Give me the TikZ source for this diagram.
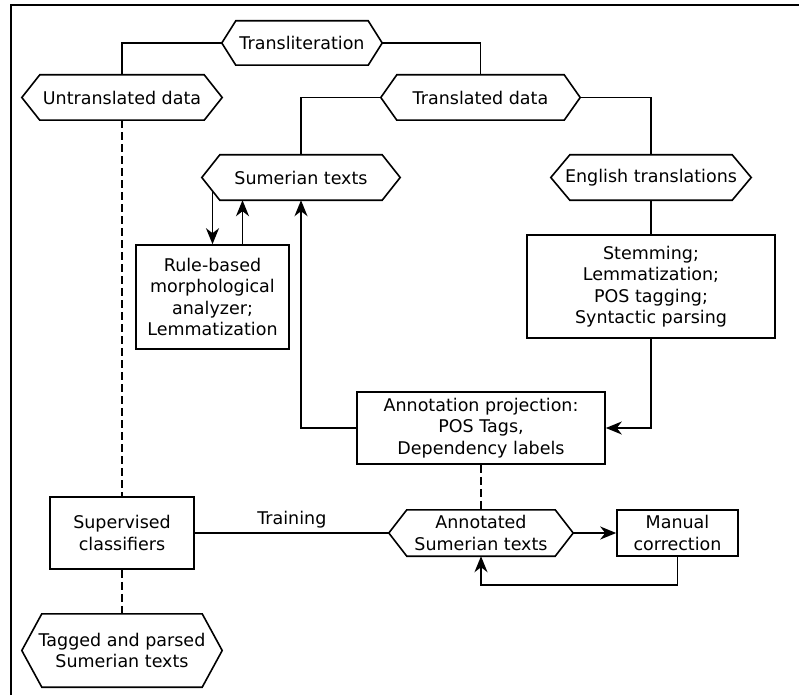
\documentclass[tikz,border=0pt]{standalone}
\usepackage{fontspec}
\setmainfont{DejaVu Sans}
\usetikzlibrary{arrows.meta}
\pgfdeclarelayer{background}
\pgfdeclarelayer{hexl}
\pgfsetlayers{background,hexl,main}
\tikzset{
  base/.style={inner sep=0pt, align=center, font=\fontsize{17.5}{21.5}\selectfont},
  box/.style={base, rectangle, draw, fill=white, line width=1.6pt},
  hexn/.style={base, rectangle},
  hexline/.style={draw, fill=white, line width=1.6pt},
  conn/.style={line width=1.7pt},
  arr/.style={conn, -{Stealth[length=16pt,width=13pt,inset=5pt]}},
  dashln/.style={conn, dash pattern=on 8pt off 4pt}
}
\newcommand\hexdraw[2]{%
  \begin{pgfonlayer}{hexl}
  \draw[hexline] (#1.west) -- ([xshift=#2pt]#1.north west) -- ([xshift=-#2pt]#1.north east) -- (#1.east) -- ([xshift=-#2pt]#1.south east) -- ([xshift=#2pt]#1.south west) -- cycle;
  \end{pgfonlayer}}
\begin{document}
\begin{tikzpicture}[x=1pt,y=-1pt]
\useasboundingbox (0,0) rectangle (799,695);
\draw[line width=2.4pt] (11,695) -- (11,5) -- (799,5);

% hexagon nodes
\node[hexn, minimum width=160pt, minimum height=44pt] (translit) at (302,43) {Transliteration};
\node[hexn, minimum width=200pt, minimum height=45pt] (untrans) at (122,97.5) {Untranslated data};
\node[hexn, minimum width=199pt, minimum height=45pt] (transl) at (480.5,97.5) {Translated data};
\node[hexn, minimum width=198pt, minimum height=45pt] (sumer) at (301,177.5) {Sumerian texts};
\node[hexn, minimum width=200pt, minimum height=45pt] (english) at (651,177.5) {English translations};
\node[hexn, minimum width=184pt, minimum height=46pt] (annotated) at (481,533) {Annotated\\Sumerian texts};
\node[hexn, minimum width=200pt, minimum height=73pt] (tagged) at (122,650.5) {Tagged and parsed\\Sumerian texts};
\hexdraw{translit}{14}
\hexdraw{untrans}{18}
\hexdraw{transl}{16}
\hexdraw{sumer}{18}
\hexdraw{english}{19}
\hexdraw{annotated}{18}
\hexdraw{tagged}{20}

% rectangular nodes
\node[box, minimum width=248pt, minimum height=103pt] (stem) at (651,286.5) {Stemming;\\Lemmatization;\\POS tagging;\\Syntactic parsing};
\node[box, minimum width=153pt, minimum height=104pt] (rule) at (212.5,297) {Rule-based\\morphological\\analyzer;\\Lemmatization};
\node[box, minimum width=248pt, minimum height=72pt] (annot) at (481,428) {Annotation projection:\\POS Tags,\\Dependency labels};
\node[box, minimum width=144pt, minimum height=72pt] (superv) at (122,533) {Supervised\\classifiers};
\node[box, minimum width=121pt, minimum height=46pt] (manual) at (677.5,533) {Manual\\correction};

\begin{pgfonlayer}{background}
\draw[conn] (translit.west) -| (untrans.north);
\draw[conn] (translit.east) -| (transl.north);
\draw[conn] (transl.west) -| (sumer.north);
\draw[conn] (transl.east) -| (english.north);
\draw[conn] (english.south) -- (stem.north);
\draw[arr] (stem.south) |- (annot.east);
\draw[arr] (annot.west) -| (sumer.south);
\draw[arr] (rule.north |- sumer.center) -- (rule.north);
\draw[arr] ([xshift=30pt]rule.north) -- ([xshift=30pt]rule.north |- sumer.south);
\draw[dashln] (untrans.south) -- (superv.north);
\draw[dashln] (superv.south) -- (tagged.north);
\draw[dashln] (annot.south) -- (annotated.north);
\draw[conn] (superv.east) -- node[base, above, inner sep=4pt] (trainlbl) {Training} (annotated.west);
\draw[arr] (annotated.east) -- (manual.west);
\draw[arr] (manual.south) -- ++(0,28) -| (annotated.south);
\end{pgfonlayer}
\end{tikzpicture}
\end{document}
